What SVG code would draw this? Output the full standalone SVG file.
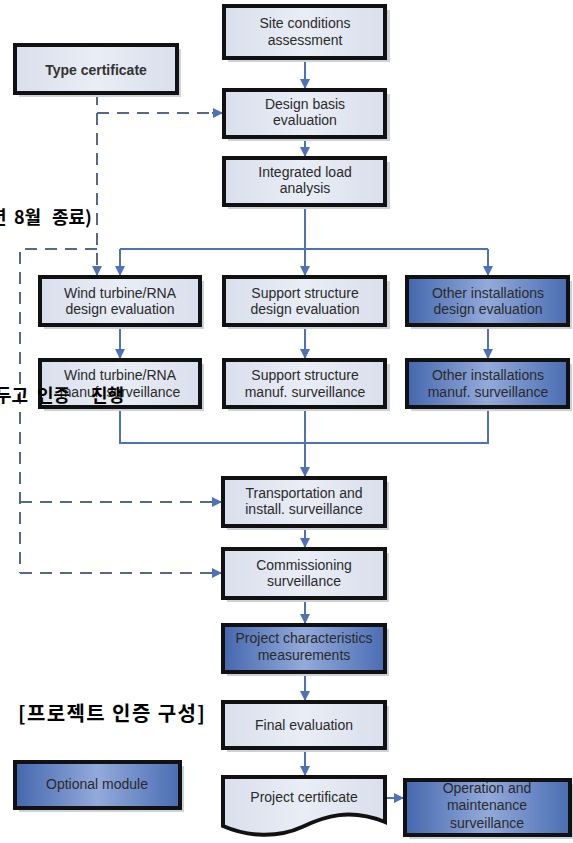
<svg xmlns="http://www.w3.org/2000/svg" width="573" height="843" viewBox="0 0 573 843">
<defs>
<linearGradient id="lg" x1="0" y1="0" x2="1" y2="0">
<stop offset="0" stop-color="#d9dfec"/><stop offset="0.5" stop-color="#e9edf5"/><stop offset="1" stop-color="#d9dfec"/>
</linearGradient>
<linearGradient id="dg" x1="0" y1="0" x2="1" y2="0">
<stop offset="0" stop-color="#4467ad"/><stop offset="0.5" stop-color="#93aadb"/><stop offset="1" stop-color="#4a6db2"/>
</linearGradient>
<marker id="ah" viewBox="0 0 10 10" refX="10" refY="5" markerWidth="10" markerHeight="10" markerUnits="userSpaceOnUse" orient="auto">
<path d="M0,0 L10,5 L0,10 Z" fill="#4e72b8"/>
</marker>
</defs>
<style>
.box{fill:url(#lg);stroke:#111;stroke-width:4}
.dbox{fill:url(#dg);stroke:#111;stroke-width:4}
.sh{fill:#cdd1da}
.t{font-family:"Liberation Sans",Arial,sans-serif;font-size:14px;fill:#2a2a2a;text-anchor:middle}
.tb{font-family:"Liberation Sans",Arial,sans-serif;font-size:14px;font-weight:bold;fill:#333;text-anchor:middle}
.ln{fill:none;stroke:#4e72b8;stroke-width:2}
.da{fill:none;stroke:#56688e;stroke-width:2;stroke-dasharray:12,8}
.kr{font-family:"Noto Sans CJK KR",sans-serif;font-weight:bold;fill:#000}
</style>
<rect width="573" height="843" fill="#fff"/>

<g id="connectors">
<path class="ln" d="M305,58 V89" marker-end="url(#ah)"/>
<path class="ln" d="M305,137 V157" marker-end="url(#ah)"/>
<path class="ln" d="M305,205 V276" marker-end="url(#ah)"/>
<path class="ln" d="M120,249 H488"/>
<path class="ln" d="M120,249 V276" marker-end="url(#ah)"/>
<path class="ln" d="M488,249 V276" marker-end="url(#ah)"/>
<path class="ln" d="M120,325 V359" marker-end="url(#ah)"/>
<path class="ln" d="M305,325 V359" marker-end="url(#ah)"/>
<path class="ln" d="M488,325 V359" marker-end="url(#ah)"/>
<path class="ln" d="M120,407 V443 H488 V407"/>
<path class="ln" d="M305,407 V477" marker-end="url(#ah)"/>
<path class="ln" d="M305,526 V548" marker-end="url(#ah)"/>
<path class="ln" d="M305,598 V624" marker-end="url(#ah)"/>
<path class="ln" d="M305,672 V701" marker-end="url(#ah)"/>
<path class="ln" d="M305,748 V776" marker-end="url(#ah)"/>
<path class="ln" d="M385,798 H404" marker-end="url(#ah)"/>
<path class="da" d="M97,93 V268"/>
<path class="ln" d="M97,268 V276" marker-end="url(#ah)"/>
<path class="da" d="M97,113 H212"/>
<path class="ln" d="M212,113 H223" marker-end="url(#ah)"/>
<path class="da" d="M97,249 H20 V573"/>
<path class="da" d="M20,502 H212"/>
<path class="ln" d="M212,502 H222" marker-end="url(#ah)"/>
<path class="da" d="M20,573 H212"/>
<path class="ln" d="M212,573 H222" marker-end="url(#ah)"/>
</g>

<g id="site"><rect class="sh" x="228" y="10" width="162" height="52"/><rect class="box" x="224" y="6" width="161" height="52"/><text class="t" x="305" y="28">Site conditions</text><text class="t" x="305" y="45">assessment</text></g>
<g id="typecert"><rect class="sh" x="19" y="49" width="162" height="48"/><rect class="box" x="15" y="45" width="162" height="48"/><text class="tb" x="96" y="75">Type certificate</text></g>
<g id="designbasis"><rect class="sh" x="228" y="94" width="162" height="47"/><rect class="box" x="224" y="90" width="161" height="47"/><text class="t" x="305" y="109">Design basis</text><text class="t" x="305" y="125">evaluation</text></g>
<g id="load"><rect class="sh" x="228" y="162" width="162" height="47"/><rect class="box" x="224" y="158" width="161" height="47"/><text class="t" x="305" y="177">Integrated load</text><text class="t" x="305" y="193">analysis</text></g>

<g id="wt-design"><rect class="sh" x="44" y="281" width="160" height="48"/><rect class="box" x="40" y="277" width="160" height="48"/><text class="t" x="120" y="298">Wind turbine/RNA</text><text class="t" x="120" y="314">design evaluation</text></g>
<g id="ss-design"><rect class="sh" x="228" y="281" width="162" height="48"/><rect class="box" x="224" y="277" width="161" height="48"/><text class="t" x="305" y="298">Support structure</text><text class="t" x="305" y="314">design evaluation</text></g>
<g id="oi-design"><rect class="sh" x="411" y="281" width="161" height="48"/><rect class="dbox" x="407" y="277" width="161" height="48"/><text class="t" x="488" y="298">Other installations</text><text class="t" x="488" y="314">design evaluation</text></g>

<g id="wt-manuf"><rect class="sh" x="44" y="364" width="160" height="47"/><rect class="box" x="40" y="360" width="160" height="47"/><text class="t" x="120" y="380">Wind turbine/RNA</text><text class="t" x="120" y="397">manuf. surveillance</text></g>
<g id="ss-manuf"><rect class="sh" x="228" y="364" width="162" height="47"/><rect class="box" x="224" y="360" width="161" height="47"/><text class="t" x="305" y="380">Support structure</text><text class="t" x="305" y="397">manuf. surveillance</text></g>
<g id="oi-manuf"><rect class="sh" x="411" y="364" width="161" height="47"/><rect class="dbox" x="407" y="360" width="161" height="47"/><text class="t" x="488" y="380">Other installations</text><text class="t" x="488" y="397">manuf. surveillance</text></g>

<g id="transport"><rect class="sh" x="227" y="482" width="162" height="48"/><rect class="box" x="223" y="478" width="162" height="48"/><text class="t" x="304" y="498">Transportation and</text><text class="t" x="304" y="514">install. surveillance</text></g>
<g id="commission"><rect class="sh" x="227" y="553" width="162" height="49"/><rect class="box" x="223" y="549" width="162" height="49"/><text class="t" x="304" y="570">Commissioning</text><text class="t" x="304" y="586">surveillance</text></g>
<g id="projchar"><rect class="sh" x="227" y="629" width="162" height="47"/><rect class="dbox" x="223" y="625" width="162" height="47"/><text class="t" x="304" y="643">Project characteristics</text><text class="t" x="304" y="660">measurements</text></g>
<g id="final"><rect class="sh" x="227" y="706" width="162" height="46"/><rect class="box" x="223" y="702" width="162" height="46"/><text class="t" x="304" y="730">Final evaluation</text></g>
<g id="projcert"><path class="box" d="M223,777 H385 V822 C350,808 325,816 302,827 C278,838 248,837 223,826 Z"/><text class="t" x="304" y="802">Project certificate</text></g>
<g id="oandm"><rect class="sh" x="409" y="784" width="165" height="55"/><rect class="dbox" x="405" y="780" width="165" height="55"/><text class="t" x="487" y="793">Operation and</text><text class="t" x="487" y="810">maintenance</text><text class="t" x="487" y="828">surveillance</text></g>
<g id="optional"><rect class="sh" x="19" y="766" width="165" height="46"/><rect class="dbox" x="15" y="762" width="165" height="46"/><text class="t" x="97" y="789">Optional module</text></g>

<g id="korean">
<text class="kr" font-size="18" y="224"><tspan x="-10">년</tspan><tspan x="14">8월</tspan><tspan x="52">종료)</tspan></text>
<text class="kr" font-size="18" y="402"><tspan x="-5">두고</tspan><tspan x="37">인증</tspan><tspan x="91">진행</tspan></text>
<text class="kr" font-size="20" font-weight="900" letter-spacing="1.4" x="18" y="721">[프로젝트 인증 구성]</text>
</g>
</svg>
